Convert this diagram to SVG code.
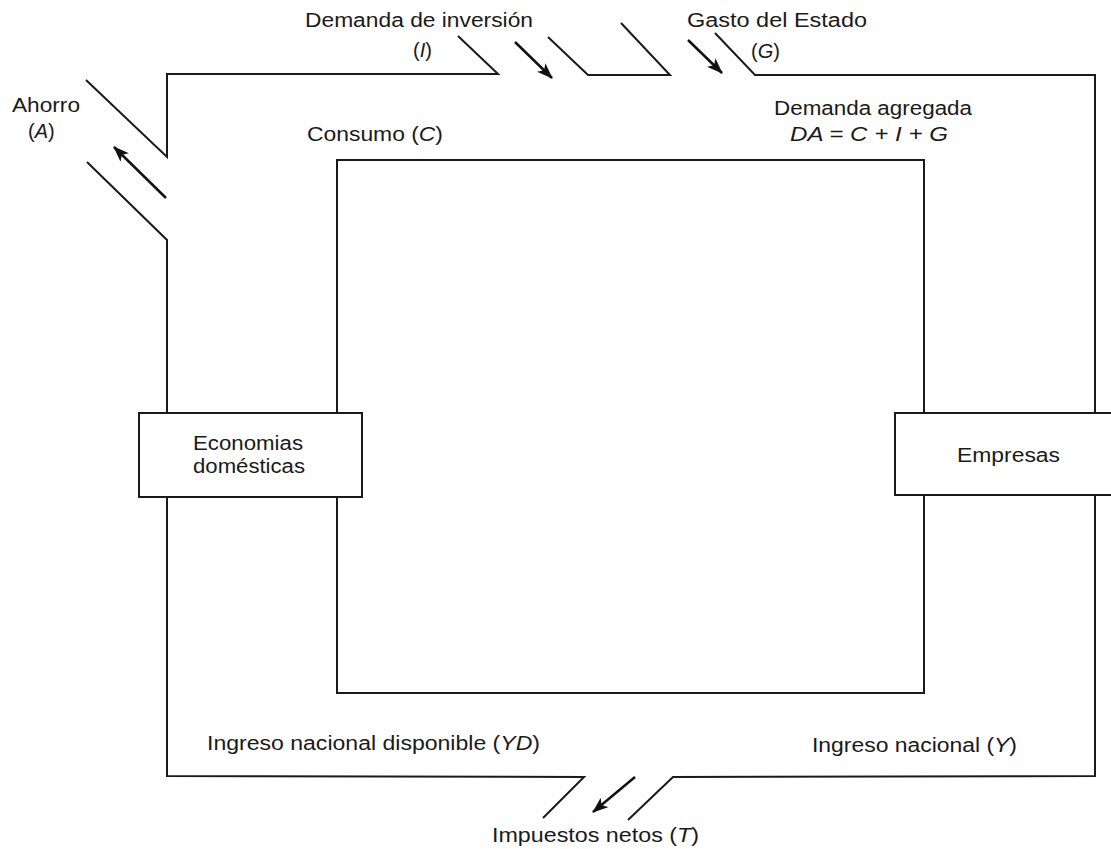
<svg xmlns="http://www.w3.org/2000/svg" width="1111" height="849" viewBox="0 0 1111 849">
  <style>
    .flow { fill: none; stroke: #1a1a1a; stroke-width: 2; stroke-linejoin: miter; }
    .arrow { fill: none; stroke: #111; stroke-width: 2.5; marker-end: url(#head); }
    .box { fill: #fff; stroke: #1a1a1a; stroke-width: 2; }
    text { font-family: "Liberation Sans", Arial, sans-serif; font-size: 20px; fill: #1a1a1a; }
    .it { font-style: italic; }
  </style>
  <defs>
    <marker id="head" viewBox="0 0 16 12" refX="15" refY="6" markerWidth="16" markerHeight="12" markerUnits="userSpaceOnUse" orient="auto">
      <path d="M0,0 L16,6 L0,12 L4,6 Z" fill="#111"/>
    </marker>
  </defs>

  <rect width="1111" height="849" fill="#fff"/>

  <!-- circular flow: outer loop with leakage/injection openings, inner consumption loop -->
  <g id="connectors">
    <path class="flow" d="M86,80 L167,157 L167,74 L498,74 L458,36"/>
    <path class="flow" d="M548,37 L588,75 L670,75 L621,23"/>
    <path class="flow" d="M715,33 L755,75 L1095,75 L1095,776 L673,777 L628,820"/>
    <path class="flow" d="M543,818 L584,777 L167,776 L167,240 L87,162"/>
    <rect class="flow" x="337" y="160" width="587" height="533"/>
    <line class="arrow" x1="166" y1="198" x2="114" y2="147"/>
    <line class="arrow" x1="515" y1="42" x2="552" y2="78"/>
    <line class="arrow" x1="688" y1="40" x2="722" y2="73"/>
    <line class="arrow" x1="635" y1="777" x2="593" y2="812"/>
  </g>

  <g id="hogares">
    <rect class="box" x="139" y="413" width="223" height="84"/>
    <text x="193" y="450" textLength="110" lengthAdjust="spacingAndGlyphs">Economias</text>
    <text x="193" y="473" textLength="112" lengthAdjust="spacingAndGlyphs">domésticas</text>
  </g>

  <g id="empresas">
    <rect class="box" x="895" y="413" width="230" height="82"/>
    <text x="957" y="462" textLength="103" lengthAdjust="spacingAndGlyphs">Empresas</text>
  </g>

  <g id="labels">
    <text x="12" y="112" textLength="68" lengthAdjust="spacingAndGlyphs">Ahorro</text>
    <text x="28" y="138">(<tspan class="it">A</tspan>)</text>
    <text x="305" y="27" textLength="228" lengthAdjust="spacingAndGlyphs">Demanda de inversión</text>
    <text x="413" y="57">(<tspan class="it">I</tspan>)</text>
    <text x="687" y="27" textLength="180" lengthAdjust="spacingAndGlyphs">Gasto del Estado</text>
    <text x="751" y="58">(<tspan class="it">G</tspan>)</text>
    <text x="774" y="115" textLength="198" lengthAdjust="spacingAndGlyphs">Demanda agregada</text>
    <text class="it" x="790" y="141" textLength="158" lengthAdjust="spacingAndGlyphs">DA = C + I + G</text>
    <text x="307" y="141" textLength="136" lengthAdjust="spacingAndGlyphs">Consumo (<tspan class="it">C</tspan>)</text>
    <text x="207" y="750" textLength="333" lengthAdjust="spacingAndGlyphs">Ingreso nacional disponible (<tspan class="it">YD</tspan>)</text>
    <text x="812" y="752" textLength="205" lengthAdjust="spacingAndGlyphs">Ingreso nacional (<tspan class="it">Y</tspan>)</text>
    <text x="492" y="842" textLength="207" lengthAdjust="spacingAndGlyphs">Impuestos netos (<tspan class="it">T</tspan>)</text>
  </g>
</svg>
